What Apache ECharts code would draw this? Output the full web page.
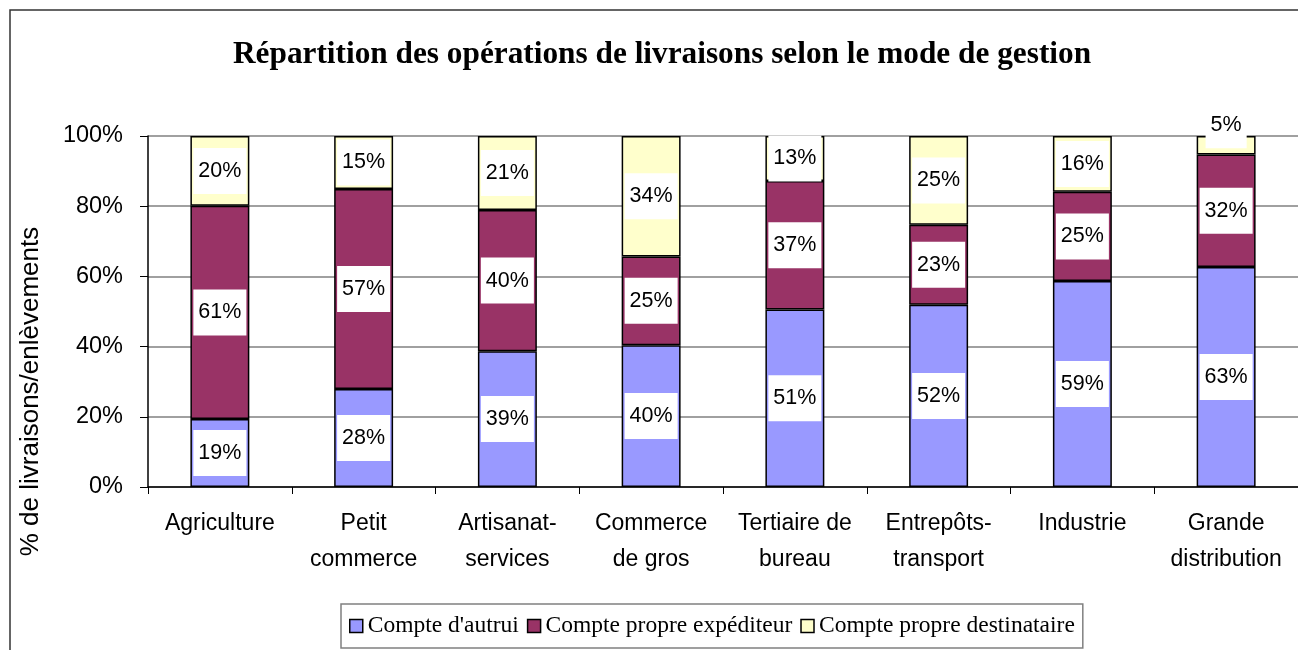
<!DOCTYPE html>
<html>
<head>
<meta charset="utf-8">
<script src="https://cdn.jsdelivr.net/npm/echarts@6/dist/echarts.min.js"></script>
<style>
  html, body { margin: 0; padding: 0; background: #fff; }
  #chart { width: 1298px; height: 650px; }
</style>
</head>
<body>
<div id="chart"></div>
<script>
// données (en %)
const categories = ['Agriculture', 'Petit\ncommerce', 'Artisanat-\nservices', 'Commerce\nde gros',
  'Tertiaire de\nbureau', 'Entrepôts-\ntransport', 'Industrie', 'Grande\ndistribution']
const compteAutrui = [19.4, 27.9, 38.7, 40.4, 50.6, 51.9, 58.7, 62.7]
const compteExpediteur = [60.7, 57.0, 40.2, 25.3, 36.6, 22.8, 25.4, 32.0]
const compteDestinataire = [19.9, 15.1, 21.1, 34.3, 12.8, 25.3, 15.9, 5.3]
const yTicks = [0, 20, 40, 60, 80, 100]

const colors = ['#9999FF', '#993366', '#FFFFCC']
const names = ['Compte d\'autrui', 'Compte propre expéditeur', 'Compte propre destinataire']

const chart = echarts.init(document.getElementById('chart'))

function makeSeries (name, values, color) {
  return {
    name: name,
    type: 'bar',
    stack: 'total',
    barWidth: '41%',
    itemStyle: { color: color, borderColor: '#000', borderWidth: 1.5 },
    label: {
      show: true,
      position: 'inside',
      formatter: p => Math.round(p.value) + '%',
      fontFamily: 'Liberation Sans, Arial',
      fontSize: 21.5,
      color: '#000',
      backgroundColor: '#fff',
      padding: [12, 5]
    },
    data: values.map(v => {
      // petit segment : étiquette remontée comme sur l'original
      if (v < 8) return { value: v, label: { offset: [0, -20] } }
      return v
    })
  }
}

const option = {
  animation: false,
  color: colors,
  title: {
    text: 'Répartition des opérations de livraisons selon le mode de gestion',
    left: 228,
    top: 34,
    textStyle: {
      fontFamily: 'Liberation Serif, Times New Roman',
      fontWeight: 'bold',
      fontSize: 31.3,
      color: '#000'
    }
  },
  graphic: [{
    type: 'rect',
    shape: { x: 10, y: 10, width: 1400, height: 700 },
    style: { fill: 'none', stroke: '#333', lineWidth: 1.5 },
    z: 100
  }],
  legend: {
    data: names,
    left: 341,
    top: 604,
    icon: 'rect',
    itemWidth: 13,
    itemHeight: 13,
    itemGap: 8,
    padding: [10, 8, 10, 8],
    borderColor: '#808080',
    borderWidth: 1.5,
    itemStyle: { borderColor: '#000', borderWidth: 1.5 },
    textStyle: {
      fontFamily: 'Liberation Serif, Times New Roman',
      fontSize: 23.5,
      color: '#000'
    }
  },
  grid: { left: 148, top: 136, bottom: 163, right: -10 },
  xAxis: {
    type: 'category',
    data: categories,
    axisLine: { lineStyle: { color: '#000', width: 1.5 } },
    axisTick: { show: true, length: 7, lineStyle: { color: '#000' } },
    axisLabel: {
      fontFamily: 'Liberation Sans, Arial',
      fontSize: 23,
      color: '#000',
      lineHeight: 36,
      margin: 19,
      interval: 0
    }
  },
  yAxis: {
    type: 'value',
    min: yTicks[0],
    max: yTicks[yTicks.length - 1],
    interval: 20,
    name: '% de livraisons/enlèvements',
    nameLocation: 'middle',
    nameGap: 104,
    nameTextStyle: {
      fontFamily: 'Liberation Sans, Arial',
      fontSize: 26,
      color: '#000',
      // décale le titre vers le bas comme sur l'original
      padding: [0, 160, 0, 0]
    },
    axisLine: { show: true, lineStyle: { color: '#000', width: 1.5 } },
    axisTick: { show: true, length: 8, lineStyle: { color: '#000' } },
    axisLabel: {
      formatter: '{value}%',
      fontFamily: 'Liberation Sans, Arial',
      fontSize: 23.5,
      color: '#000',
      margin: 25
    },
    splitLine: { lineStyle: { color: '#808080', width: 1.5 } }
  },
  series: [
    makeSeries(names[0], compteAutrui, colors[0]),
    makeSeries(names[1], compteExpediteur, colors[1]),
    makeSeries(names[2], compteDestinataire, colors[2])
  ]
}

chart.setOption(option)
</script>
</body>
</html>
